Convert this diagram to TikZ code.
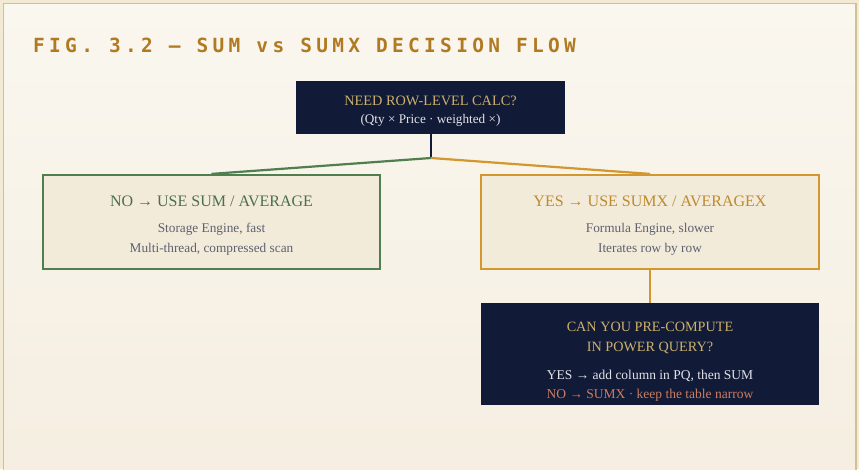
\documentclass[tikz,border=0pt]{standalone}
\usepackage{fontspec}
\setmainfont{Liberation Serif}
\newfontfamily\figfont[LetterSpace=22]{DejaVu Sans Mono}
\definecolor{navy}{HTML}{111B37}
\definecolor{goldtxt}{HTML}{CDB06C}
\definecolor{paletxt}{HTML}{E2E2E8}
\definecolor{leaf}{HTML}{4F7F4F}
\definecolor{leaftxt}{HTML}{4A7048}
\definecolor{amber}{HTML}{D4962E}
\definecolor{ambertxt}{HTML}{BD8A2F}
\definecolor{slate}{HTML}{5C6070}
\definecolor{parch}{HTML}{F3EBDA}
\definecolor{salmon}{HTML}{CC7C60}
\definecolor{figcol}{HTML}{B07A22}
\definecolor{framecol}{HTML}{CFC193}
\definecolor{pagetop}{HTML}{FAF7EF}
\definecolor{pagebot}{HTML}{F5EEE1}
\definecolor{outer}{HTML}{F2EAD3}
\tikzset{
  darkbox/.style={rectangle, fill=navy, draw=none, inner sep=0pt},
  choicebox/.style={rectangle, fill=parch, line width=2.2pt, inner sep=0pt},
  head/.style={font=\fontsize{16}{18}\selectfont, inner sep=0pt},
  body/.style={font=\fontsize{13.3}{15}\selectfont, text=slate, inner sep=0pt},
  link/.style={line width=2.2pt},
}
\begin{document}
\begin{tikzpicture}[x=1pt,y=-1pt]
  \useasboundingbox (0,0) rectangle (859,469);
  % page and frame
  \fill[outer] (0,0) rectangle (859,469);
  \shade[top color=pagetop, bottom color=pagebot] (3.5,3.5) rectangle (856,475);
  \draw[framecol, line width=1.6pt] (3.5,475) -- (3.5,3.5) -- (856,3.5) -- (856,475);

  % figure caption
  \node[anchor=base west, inner sep=0pt, text=figcol, font=\figfont\bfseries\fontsize{19.5}{22}\selectfont]
    (caption) at (33,52) {FIG. 3.2 — SUM vs SUMX DECISION FLOW};

  % question
  \node[darkbox, minimum width=269pt, minimum height=53pt] (need) at (430.5,107.5) {};
  \node[inner sep=0pt, text=goldtxt, font=\fontsize{14.3}{16}\selectfont] (needhead) at (430.5,100.5) {NEED ROW-LEVEL CALC?};
  \node[inner sep=0pt, text=paletxt, font=\fontsize{13.2}{15}\selectfont] (needsub) at (430.5,120.5) {(Qty × Price · weighted ×)};

  % answers
  \node[choicebox, draw=leaf, minimum width=337pt, minimum height=94pt] (no) at (211.5,222) {};
  \node[head, text=leaftxt] (nohead) at (211.5,201) {NO → USE SUM / AVERAGE};
  \node[body] (noa) at (211.5,229.5) {Storage Engine, fast};
  \node[body] (nob) at (211.5,249.5) {Multi-thread, compressed scan};

  \node[choicebox, draw=amber, minimum width=338pt, minimum height=94pt] (yes) at (650,222) {};
  \node[head, text=ambertxt] (yeshead) at (650,201) {YES → USE SUMX / AVERAGEX};
  \node[body] (yesa) at (650,229.5) {Formula Engine, slower};
  \node[body] (yesb) at (650,249.5) {Iterates row by row};

  % follow-up question
  \node[darkbox, minimum width=338pt, minimum height=102pt] (pq) at (650,354) {};
  \node[inner sep=0pt, text=goldtxt, font=\fontsize{14.2}{16}\selectfont, align=center] (pqhead) at (650,338)
    {CAN YOU PRE-COMPUTE\\[4pt]IN POWER QUERY?};
  \node[inner sep=0pt, text=paletxt, font=\fontsize{13.5}{15}\selectfont] (pqyes) at (650,376) {YES → add column in PQ, then SUM};
  \node[inner sep=0pt, text=salmon, font=\fontsize{13.5}{15}\selectfont] (pqno) at (650,395) {NO → SUMX · keep the table narrow};

  % connectors
  \coordinate (split) at (431,158);
  \draw[navy, line width=1.6pt] (need.south -| split) -- (split);
  \draw[leaf, link] (split) -- (no.north);
  \draw[amber, link] (split) -- (yes.north);
  \draw[amber, link] (yes.south) -- (pq.north);
\end{tikzpicture}
\end{document}
